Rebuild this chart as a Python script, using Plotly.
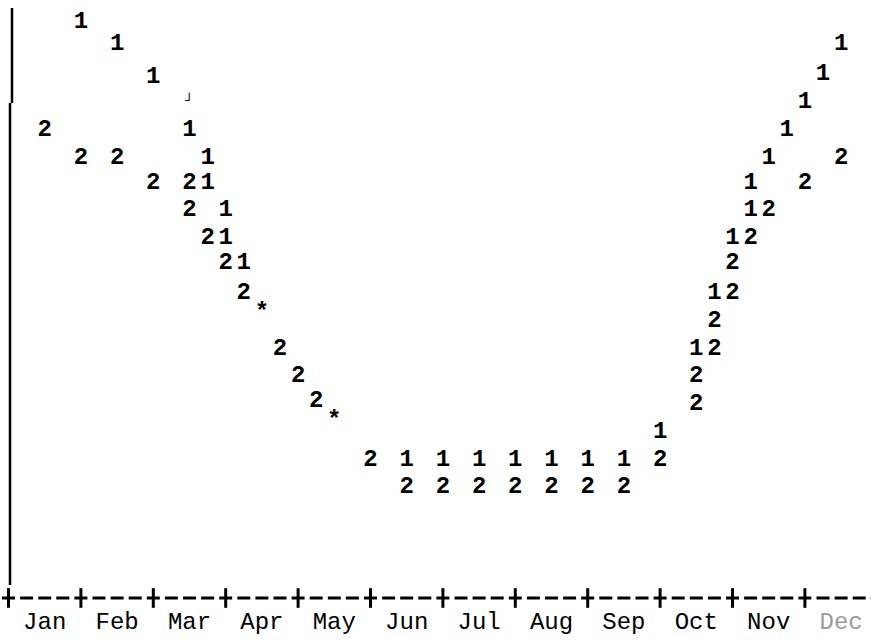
import plotly.graph_objects as go

# Month labels along the time axis
months = ["Jan", "Feb", "Mar", "Apr", "May", "Jun",
          "Jul", "Aug", "Sep", "Oct", "Nov", "Dec"]

# Series 1 (plot symbol "1"): position in months from 1 Jan, level
s1_month = [1.0, 1.5, 2.0, 2.5, 2.75, 2.75, 3.0, 3.0, 3.25,
            5.5, 6.0, 6.5, 7.0, 7.5, 8.0, 8.5,
            9.0, 9.5, 9.75, 10.0, 10.25, 10.25, 10.5, 10.75, 11.0, 11.25, 11.5]
s1_level = [20.8, 20.0, 18.8, 16.9, 15.9, 15.0, 14.0, 13.0, 12.1,
            5.0, 5.0, 5.0, 5.0, 5.0, 5.0, 5.0,
            6.0, 9.0, 11.0, 13.0, 14.0, 15.0, 15.9, 16.9, 17.9, 18.9, 20.0]

# Series 1 point whose symbol only partly printed
s1_faint_month = [2.5]
s1_faint_level = [17.9]

# Series 2 (plot symbol "2")
s2_month = [0.5, 1.0, 1.5, 2.0, 2.5, 2.5, 2.75, 3.0, 3.25, 3.75, 4.0, 4.25, 5.0,
            5.5, 6.0, 6.5, 7.0, 7.5, 8.0, 8.5,
            9.0, 9.5, 9.5, 9.75, 9.75, 10.0, 10.0, 10.25, 10.5, 11.0, 11.5]
s2_level = [16.9, 15.9, 15.9, 15.0, 15.0, 14.0, 13.0, 12.1, 11.0, 9.0, 8.0, 7.1, 5.0,
            4.0, 4.0, 4.0, 4.0, 4.0, 4.0, 4.0,
            5.0, 7.0, 8.0, 9.0, 10.0, 11.0, 12.1, 13.0, 14.0, 15.0, 15.9]

# Coincident points (plot symbol "*")
star_month = [3.5, 4.5]
star_level = [10.3, 6.4]

MONO = "Liberation Mono, Courier New, monospace"
W, H = 871, 641
PLOT_H = 600            # plot area height; month labels sit underneath
PX_PER_MONTH = 72.4
PX_PER_UNIT = 27.7
X0_PX = 8.5             # pixel of 1 Jan
Y0_PX = 598             # pixel of level 0 (the time axis)

x_range = [-X0_PX / PX_PER_MONTH, (W - X0_PX) / PX_PER_MONTH]
y_range = [(Y0_PX - PLOT_H) / PX_PER_UNIT, Y0_PX / PX_PER_UNIT]

sym_font = dict(family=MONO, size=24, color="black", weight="bold")

fig = go.Figure()
fig.add_trace(go.Scatter(x=s1_month, y=s1_level, mode="text",
                         text=["1"] * len(s1_month), textfont=sym_font,
                         textposition="middle center", name="1"))
fig.add_trace(go.Scatter(x=s2_month, y=s2_level, mode="text",
                         text=["2"] * len(s2_month), textfont=sym_font,
                         textposition="middle center", name="2"))
fig.add_trace(go.Scatter(x=star_month, y=star_level, mode="text",
                         text=["*"] * len(star_month), textfont=sym_font,
                         textposition="middle center", name="*"))
fig.add_trace(go.Scatter(x=s1_faint_month, y=s1_faint_level, mode="text",
                         text=["┘"] * len(s1_faint_month),
                         textfont=dict(family="DejaVu Sans Mono", size=13, color="black"),
                         textposition="middle center", name="1"))

# Dashed time axis "+---+---+"
fig.add_shape(type="line", xref="x", yref="y", layer="below",
              x0=(2 - X0_PX) / PX_PER_MONTH, x1=x_range[1], y0=0, y1=0,
              line=dict(color="black", width=3, dash="13px,5.1px"))

# "+" tick crossings at the start of each month on the time axis
fig.add_trace(go.Scatter(x=list(range(12)), y=[0] * 12, mode="markers",
                         cliponaxis=False,
                         marker=dict(symbol="line-ns", size=14,
                                     line=dict(color="black", width=3)),
                         hoverinfo="skip"))

# Vertical axis rule (printed in two slightly offset pieces)
def py(p):
    return (PLOT_H - p) / PLOT_H

fig.add_shape(type="line", xref="paper", yref="paper",
              x0=12 / W, x1=12 / W, y0=py(8), y1=py(103),
              line=dict(color="black", width=2.5))
fig.add_shape(type="line", xref="paper", yref="paper",
              x0=10 / W, x1=10 / W, y0=py(103), y1=py(585),
              line=dict(color="black", width=2.5))

ticktext = months[:-1] + ['<span style="color:#9a9a9a">Dec</span>']

fig.update_xaxes(range=x_range, showgrid=False, zeroline=False, showline=False,
                 tickmode="array", tickvals=[i + 0.5 for i in range(12)],
                 ticktext=ticktext, ticks="",
                 tickfont=dict(family=MONO, size=24, color="black"),
                 ticklabelstandoff=4)
fig.update_yaxes(range=y_range, showgrid=False, zeroline=False, showline=False,
                 showticklabels=False, ticks="")

fig.update_layout(width=W, height=H, margin=dict(l=0, r=0, t=0, b=H - PLOT_H),
                  paper_bgcolor="white", plot_bgcolor="white",
                  showlegend=False)

fig.write_html("out.html")
